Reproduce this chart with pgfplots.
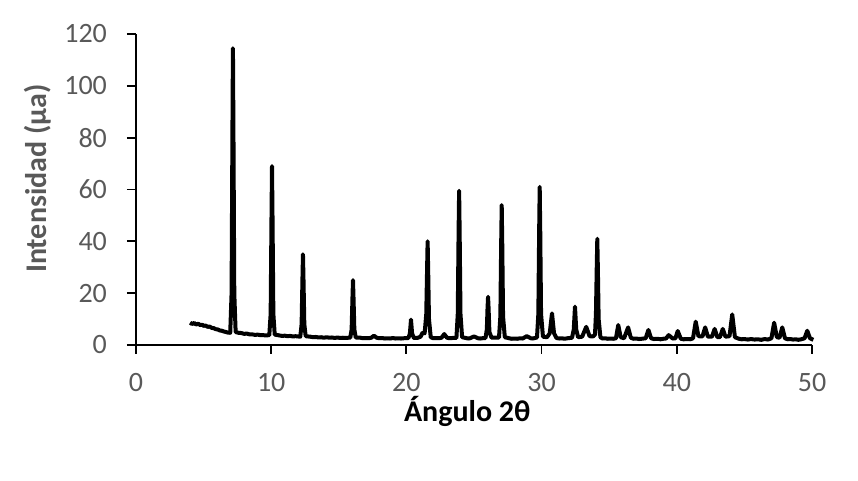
\documentclass[border=0pt]{standalone}
\usepackage{fontspec}
\setmainfont{Carlito}
\usepackage{pgfplots}
\pgfplotsset{compat=1.18}
\definecolor{txtgray}{HTML}{595959}

\begin{document}
\begin{tikzpicture}
\begin{axis}[
    scale only axis,
    width=338pt, height=155.5pt,
    xmin=0, xmax=50,
    ymin=0, ymax=120,
    xtick={0,10,...,50},
    ytick={0,20,...,120},
    axis x line=bottom,
    axis y line=left,
    axis line style={-, black, line width=0.9pt},
    tick align=outside,
    major tick length=4.5pt,
    tick style={black, line width=0.9pt},
    /pgf/number format/assume math mode=true,
    tick label style={font=\fontsize{14}{16}\selectfont, text=txtgray},
    yticklabel style={xshift=-6.5pt},
    xticklabel style={yshift=-6pt},
    xlabel={Ángulo 2θ},
    ylabel={Intensidad (µa)},
    xlabel style={at={(axis description cs:0.49,-0.215)}, anchor=center,
        font=\fontsize{15}{17}\selectfont\bfseries, text=black},
    ylabel style={at={(axis description cs:-0.145,0.535)}, anchor=center,
        font=\fontsize{15}{17}\selectfont\bfseries, text=txtgray},
    clip=false,
]
% difractograma leido a ojo del grafico
\addplot[black, line width=2pt, line join=round] coordinates {
(4.0,8.6) (4.15,8.1) (4.3,8.5) (4.45,7.9) (4.6,8.2) (4.75,7.7) (4.9,7.8)
(5.0,7.4) (5.15,7.5) (5.3,7.0) (5.45,7.1) (5.6,6.6) (5.75,6.5)
(5.9,6.1) (6.05,6.0) (6.2,5.6) (6.35,5.5) (6.5,5.2) (6.65,5.0) (6.8,4.8) (6.97,4.7)
(7.07,20) (7.13,80) (7.17,114.5) (7.21,80) (7.27,20) (7.37,5.0)
(7.6,4.7) (7.8,4.6) (8.0,4.3) (8.2,4.4) (8.4,4.1) (8.6,4.1) (8.8,3.9) (9.0,4.0)
(9.2,3.8) (9.4,3.8) (9.6,3.7) (9.86,3.8)
(9.96,12) (10.02,48) (10.06,69) (10.10,48) (10.16,12) (10.26,4.0)
(10.6,3.7) (10.8,3.5) (11.0,3.6) (11.2,3.4) (11.4,3.5) (11.6,3.3) (11.8,3.4) (12.15,3.2)
(12.25,8) (12.31,25) (12.35,35) (12.39,25) (12.45,8) (12.55,3.4)
(12.9,3.2) (13.1,3.0) (13.3,3.1) (13.5,2.9) (13.7,3.0) (13.9,2.8) (14.1,3.0)
(14.3,2.8) (14.5,2.9) (14.7,2.7) (14.9,2.9) (15.1,2.7) (15.3,2.8)
(15.5,2.7) (15.7,2.8) (15.85,2.8)
(15.95,6) (16.01,18) (16.05,25) (16.09,18) (16.15,6) (16.25,2.9)
(16.6,2.8) (16.8,2.6) (17.0,2.7) (17.2,2.6) (17.4,2.8) (17.6,3.6) (17.8,2.8) (18.0,2.6)
(18.2,2.7) (18.4,2.5) (18.6,2.6) (18.8,2.5) (19.0,2.7) (19.2,2.5) (19.4,2.6)
(19.6,2.5) (19.8,2.6) (20.15,2.7)
(20.26,4.5) (20.34,9.8) (20.42,4.5) (20.55,2.7)
(20.8,2.7) (21.05,3.2) (21.2,4.8) (21.35,4.5)
(21.47,12) (21.53,29) (21.57,40) (21.61,29) (21.67,10) (21.8,3.0)
(22.0,2.6) (22.2,2.7) (22.4,2.6) (22.6,2.8) (22.8,4.2) (23.0,2.8) (23.2,2.6)
(23.4,2.7) (23.7,2.7)
(23.8,12) (23.86,43) (23.9,59.5) (23.94,43) (24.0,12) (24.12,3.0)
(24.4,2.7) (24.55,2.5) (24.7,2.6) (25.0,3.3) (25.3,2.6) (25.45,2.5) (25.6,2.6) (25.85,2.7)
(25.95,6) (26.0,14) (26.04,18.6) (26.08,14) (26.14,5) (26.3,2.8)
(26.6,2.8) (26.85,2.9)
(26.95,11) (27.01,39) (27.05,54) (27.09,39) (27.15,11) (27.28,3.0)
(27.6,2.6) (27.8,2.4) (28.0,2.5) (28.2,2.4) (28.4,2.6) (28.6,2.5) (28.9,3.4)
(29.2,2.6) (29.35,2.5) (29.5,2.7) (29.66,2.9)
(29.76,12) (29.82,44) (29.86,61) (29.9,44) (29.96,12) (30.1,3.2)
(30.4,3.0) (30.6,4.5) (30.77,12.2) (30.92,4.5) (31.1,2.7) (31.3,2.5) (31.5,2.6)
(31.7,2.4) (31.9,2.6) (32.25,2.8)
(32.38,6) (32.47,14.8) (32.56,6) (32.7,3.0) (33.0,3.2) (33.3,7.0) (33.55,3.4)
(33.8,3.3) (33.95,4)
(34.02,12) (34.08,30) (34.12,41) (34.16,30) (34.22,10) (34.35,3.0)
(34.5,2.5) (34.7,2.6) (34.9,2.4) (35.1,2.5) (35.3,2.4) (35.5,2.6) (35.67,7.7)
(35.85,3.0) (36.1,2.6) (36.4,6.8)
(36.6,2.8) (36.8,2.4) (37.0,2.5) (37.2,2.3) (37.4,2.4) (37.7,2.6) (37.9,5.8)
(38.1,2.6) (38.3,2.3) (38.6,2.4) (38.8,2.2)
(39.0,2.4) (39.2,2.5) (39.4,3.8) (39.7,2.5) (39.9,2.6) (40.07,5.4) (40.3,2.4)
(40.5,2.2) (40.8,2.3) (41.0,2.2) (41.2,2.6)
(41.4,9.0) (41.6,3.4) (41.9,3.3) (42.1,6.8) (42.3,3.2) (42.6,3.2) (42.8,6.2)
(43.0,3.0) (43.2,3.1) (43.4,6.2) (43.6,3.2) (43.9,3.4) (44.1,11.8) (44.3,3.0)
(44.6,2.4) (44.8,2.2) (45.0,2.3) (45.25,2.1) (45.5,2.3) (45.75,2.1) (46.0,2.2)
(46.25,2.0) (46.5,2.3) (46.75,2.1) (47.0,2.6) (47.2,8.6)
(47.4,3.0) (47.6,2.8) (47.8,6.8) (48.0,2.6) (48.2,2.2) (48.4,2.3) (48.6,2.1)
(48.8,2.2) (49.0,2.0) (49.2,2.2)
(49.45,2.6) (49.65,5.5) (49.85,2.6) (50.1,2.0)
};
\end{axis}
\path[use as bounding box] (-68pt,-68pt) rectangle (361pt,172.5pt);
\end{tikzpicture}
\end{document}
